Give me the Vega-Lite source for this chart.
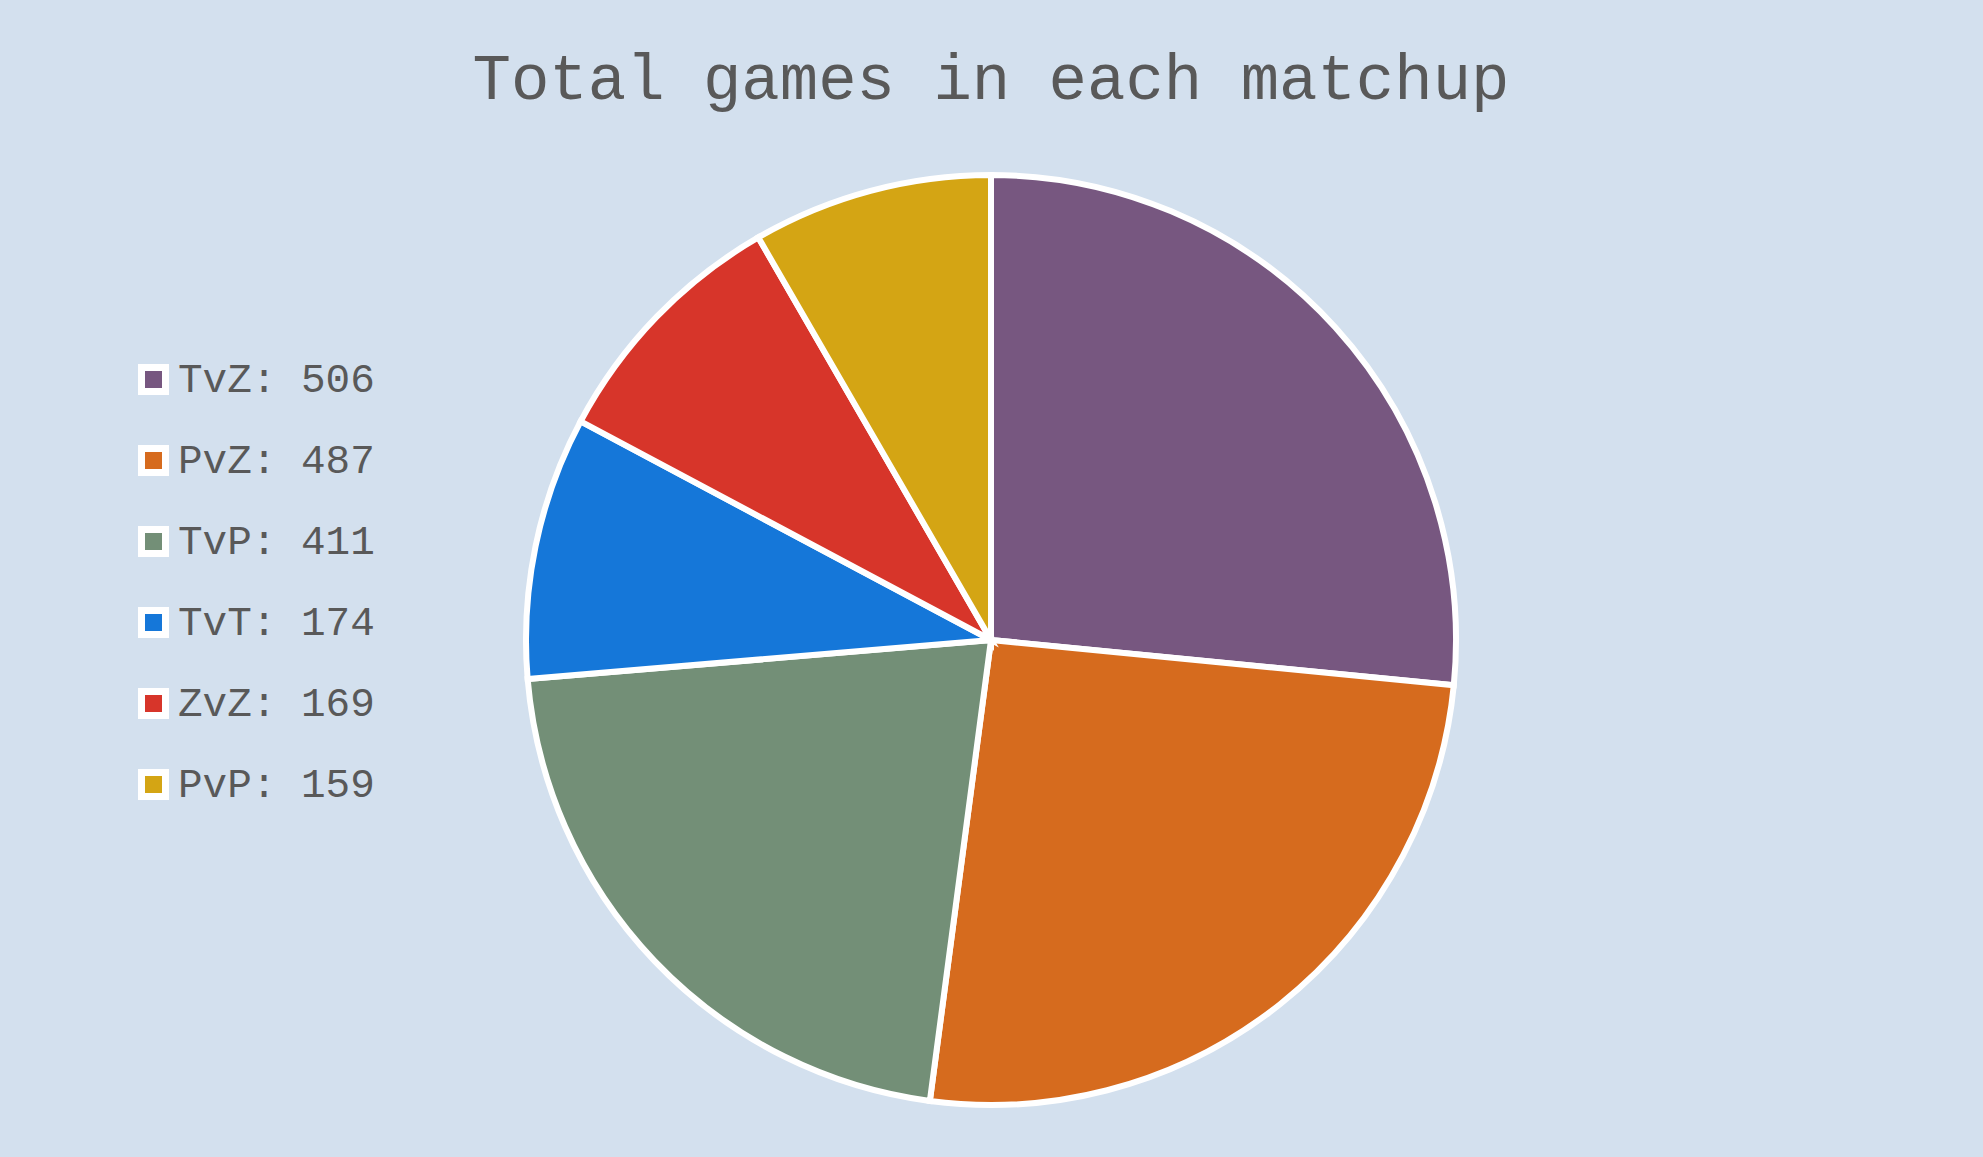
{
  "$schema": "https://vega.github.io/schema/vega-lite/v6.json",
  "width": 930,
  "height": 930,
  "autosize": {"type": "none"},
  "padding": {"left": 526, "top": 175, "right": 527, "bottom": 52},
  "background": "#D3E0EE",
  "title": {
    "text": "Total games in each matchup",
    "font": "Liberation Mono",
    "fontSize": 64,
    "fontWeight": "normal",
    "color": "#595959",
    "anchor": "middle",
    "frame": "group",
    "baseline": "alphabetic",
    "offset": 0
  },
  "data": {
    "values": [
      {"matchup": "TvZ", "games": 506},
      {"matchup": "PvZ", "games": 487},
      {"matchup": "TvP", "games": 411},
      {"matchup": "TvT", "games": 174},
      {"matchup": "ZvZ", "games": 169},
      {"matchup": "PvP", "games": 159}
    ]
  },
  "transform": [
    {"calculate": "datum.matchup + ': ' + datum.games", "as": "label"}
  ],
  "mark": {"type": "arc", "stroke": "white", "strokeWidth": 6},
  "encoding": {
    "theta": {"field": "games", "type": "quantitative", "stack": true},
    "order": {"field": "games", "type": "quantitative", "sort": "descending"},
    "color": {
      "field": "label",
      "type": "nominal",
      "sort": {"field": "games", "order": "descending"},
      "scale": {
        "domain": ["TvZ: 506", "PvZ: 487", "TvP: 411", "TvT: 174", "ZvZ: 169", "PvP: 159"],
        "range": ["#775780", "#D66B1E", "#738F77", "#1577D9", "#D7352A", "#D4A514"]
      },
      "legend": {
        "title": null,
        "orient": "none",
        "legendX": -393,
        "legendY": 184,
        "symbolType": "square",
        "symbolSize": 576,
        "symbolStrokeColor": "white",
        "symbolStrokeWidth": 7,
        "symbolOpacity": 1,
        "labelFont": "Liberation Mono",
        "labelFontSize": 41,
        "labelColor": "#595959",
        "labelOffset": 4,
        "labelLimit": 0,
        "rowPadding": 28
      }
    }
  },
  "config": {"view": {"stroke": null}}
}
